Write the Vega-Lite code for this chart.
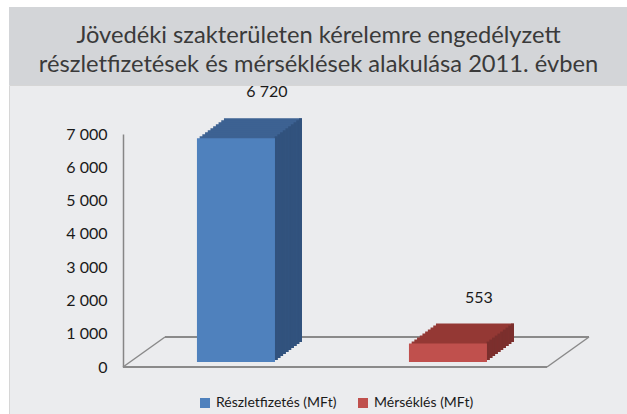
{
  "$schema": "https://vega.github.io/schema/vega-lite/v6.json",
  "background": "#ffffff",
  "padding": {"left": 8, "top": 7, "right": 0, "bottom": 0},
  "spacing": 0,
  "bounds": "flush",
  "config": {
    "locale": {"number": {"decimal": ",", "thousands": " ", "grouping": [3], "currency": ["", " Ft"]}},
    "font": "Lato"
  },
  "vconcat": [
    {
      "width": 619,
      "height": 78,
      "view": {"fill": "#d3d5d8", "stroke": null},
      "data": {"values": [{"cim": "Jövedéki szakterületen kérelemre engedélyzett\nrészletfizetések és mérséklések alakulása 2011. évben"}]},
      "mark": {"type": "text", "lineBreak": "\n", "fontSize": 23.7, "font": "Lato", "color": "#3a3a3a", "lineHeight": 29, "baseline": "middle", "align": "center", "dy": -10},
      "encoding": {"text": {"field": "cim", "type": "nominal"}}
    },
    {
      "width": 619,
      "height": 329,
      "view": {"fill": "#ebecee", "stroke": "#d6d6d6"},
      "data": {"values": [
        {"kat": "Részletfizetés (MFt)", "ertek": 6720},
        {"kat": "Mérséklés (MFt)", "ertek": 553}
      ]},
      "layer": [
        {
          "transform": [{"filter": "datum.ertek > 6000"}],
          "encoding": {
            "x": {"datum": 0, "type": "quantitative", "scale": {"domain": [0, 2], "range": [114, 538], "nice": false, "zero": false}, "axis": null},
            "y": {"datum": 0, "type": "quantitative", "scale": {"domain": [0, 7000], "nice": false, "zero": true, "range": [282, 49]},
              "axis": {"orient": "left", "offset": -114, "values": [0, 1000, 2000, 3000, 4000, 5000, 6000, 7000], "format": ",d", "domainColor": "#868686", "domainWidth": 1.5, "ticks": false, "grid": false, "labelPadding": 16, "labelFontSize": 16, "labelFont": "Lato", "labelColor": "#1a1a1a", "title": null}},
            "y2": {"datum": 0}
          },
          "layer": [
            {
              "mark": {"type": "rule", "color": "#8a8a8a", "strokeWidth": 1.5, "x2Offset": 42, "y2Offset": -30},
              "encoding": {"x2": {"datum": 0}}
            },
            {
              "mark": {"type": "rule", "color": "#8a8a8a", "strokeWidth": 2, "xOffset": 42, "x2Offset": 42, "yOffset": -30, "y2Offset": -30},
              "encoding": {"x2": {"datum": 2}}
            },
            {
              "mark": {"type": "rule", "color": "#8a8a8a", "strokeWidth": 1.5, "x2Offset": 42, "y2Offset": -30},
              "encoding": {"x": {"datum": 2, "type": "quantitative"}, "x2": {"datum": 2}}
            },
            {
              "mark": {"type": "rule", "color": "#8a8a8a", "strokeWidth": 2},
              "encoding": {"x2": {"datum": 2}}
            }
          ]
        },
        {
          "encoding": {
            "x": {"field": "kat", "type": "nominal", "sort": null,
              "scale": {"domain": ["Részletfizetés (MFt)", "Mérséklés (MFt)"], "range": [114, 538], "paddingInner": 0.632, "paddingOuter": 0.316, "align": 0.552},
              "axis": null},
            "y": {"field": "ertek", "type": "quantitative", "stack": null}
          },
          "layer": [
            {
              "encoding": {
                "y2": {"datum": 0},
                "fill": {"field": "kat", "type": "nominal", "scale": {"domain": ["Részletfizetés (MFt)", "Mérséklés (MFt)"], "range": ["#3d6292", "#943834"]}, "legend": null}},
              "layer": [
                {"mark": {"type": "bar", "xOffset": 27, "x2Offset": 27, "yOffset": -25, "y2Offset": -25}},
                {"mark": {"type": "bar", "xOffset": 24.3, "x2Offset": 24.3, "yOffset": -23, "y2Offset": -23}},
                {"mark": {"type": "bar", "xOffset": 21.6, "x2Offset": 21.6, "yOffset": -21, "y2Offset": -21}},
                {"mark": {"type": "bar", "xOffset": 18.9, "x2Offset": 18.9, "yOffset": -19, "y2Offset": -19}},
                {"mark": {"type": "bar", "xOffset": 16.2, "x2Offset": 16.2, "yOffset": -17, "y2Offset": -17}},
                {"mark": {"type": "bar", "xOffset": 13.5, "x2Offset": 13.5, "yOffset": -15, "y2Offset": -15}},
                {"mark": {"type": "bar", "xOffset": 10.8, "x2Offset": 10.8, "yOffset": -13, "y2Offset": -13}},
                {"mark": {"type": "bar", "xOffset": 8.1, "x2Offset": 8.1, "yOffset": -11, "y2Offset": -11}},
                {"mark": {"type": "bar", "xOffset": 5.4, "x2Offset": 5.4, "yOffset": -9, "y2Offset": -9}},
                {"mark": {"type": "bar", "xOffset": 2.7, "x2Offset": 2.7, "yOffset": -7, "y2Offset": -7}}
              ]
            },
            {
              "encoding": {
                "y2": {"datum": 0},
                "fill": {"field": "kat", "type": "nominal", "scale": {"domain": ["Részletfizetés (MFt)", "Mérséklés (MFt)"], "range": ["#31527d", "#7b2f2d"]}, "legend": null}},
              "layer": [
                {"mark": {"type": "bar", "width": 3, "xOffset": 40.2, "yOffset": -7, "y2Offset": -7}},
                {"mark": {"type": "bar", "width": 3, "xOffset": 42.9, "yOffset": -9, "y2Offset": -9}},
                {"mark": {"type": "bar", "width": 3, "xOffset": 45.6, "yOffset": -11, "y2Offset": -11}},
                {"mark": {"type": "bar", "width": 3, "xOffset": 48.3, "yOffset": -13, "y2Offset": -13}},
                {"mark": {"type": "bar", "width": 3, "xOffset": 51, "yOffset": -15, "y2Offset": -15}},
                {"mark": {"type": "bar", "width": 3, "xOffset": 53.7, "yOffset": -17, "y2Offset": -17}},
                {"mark": {"type": "bar", "width": 3, "xOffset": 56.4, "yOffset": -19, "y2Offset": -19}},
                {"mark": {"type": "bar", "width": 3, "xOffset": 59.1, "yOffset": -21, "y2Offset": -21}},
                {"mark": {"type": "bar", "width": 3, "xOffset": 61.8, "yOffset": -23, "y2Offset": -23}},
                {"mark": {"type": "bar", "width": 3, "xOffset": 64.5, "yOffset": -25, "y2Offset": -25}}
              ]
            },
            {
              "mark": {"type": "bar", "yOffset": -5, "y2Offset": -5},
              "encoding": {
                "y2": {"datum": 0},
                "color": {"field": "kat", "type": "nominal",
                  "scale": {"domain": ["Részletfizetés (MFt)", "Mérséklés (MFt)"], "range": ["#4f81bd", "#c0504d"]},
                  "legend": {"orient": "none", "legendX": 189, "legendY": 389, "direction": "horizontal", "title": null, "symbolType": "square", "symbolSize": 100, "symbolStrokeWidth": 0, "labelFontSize": 14, "labelFont": "Lato", "labelColor": "#1a1a1a", "labelOffset": 4, "columnPadding": 19}}
              }
            },
            {
              "mark": {"type": "text", "dx": 31, "dy": -51, "fontSize": 16, "font": "Lato", "color": "#1a1a1a", "baseline": "middle"},
              "encoding": {"text": {"field": "ertek", "type": "quantitative", "format": ",d"}}
            }
          ],
          "resolve": {"scale": {"fill": "independent"}}
        }
      ],
      "resolve": {"scale": {"x": "independent"}}
    }
  ]
}
